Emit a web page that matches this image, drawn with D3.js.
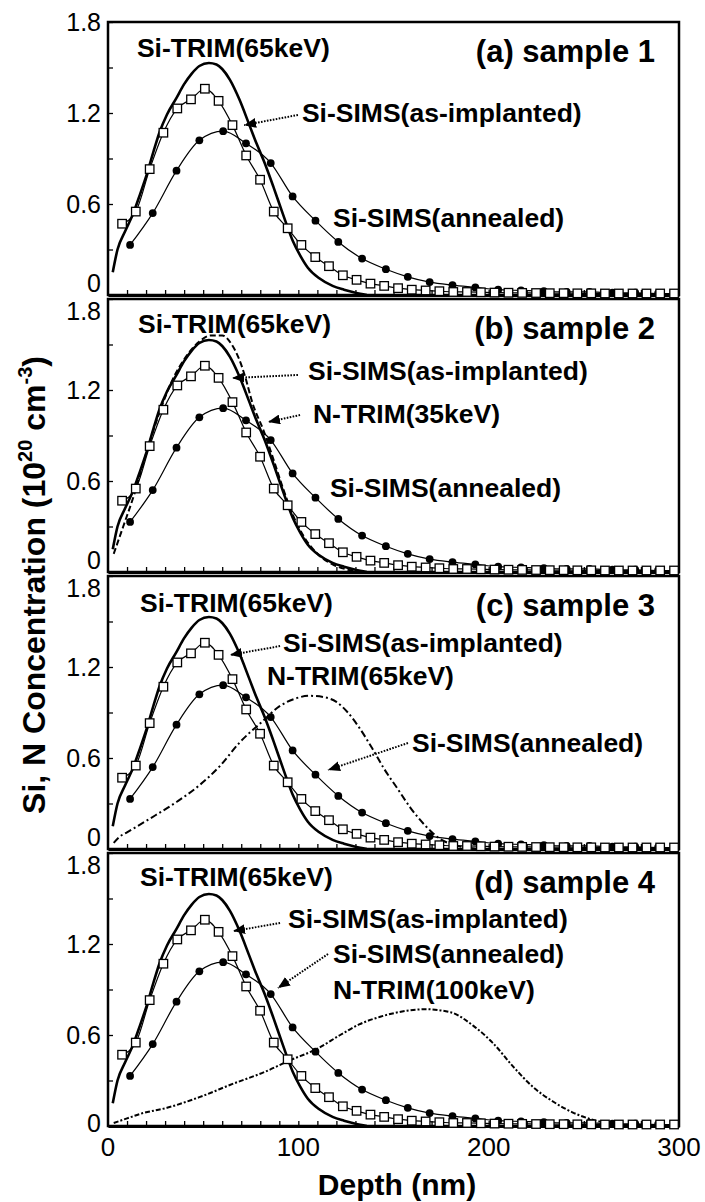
<!DOCTYPE html>
<html>
<head>
<meta charset="utf-8">
<script src="https://cdn.jsdelivr.net/npm/d3@7"></script>
<style>
body { margin: 0; background: #fff; }
svg { display: block; }
text { font-family: "Liberation Sans", Arial, sans-serif; fill: #000; }
</style>
</head>
<body>
<div id="wrapper"></div>
<script>
// ---- data: depth (nm) and concentration (1e20 cm^-3)
const siTrimDepth = [2.5, 5, 9, 13, 17, 20.5, 24, 27, 31, 36, 40, 44, 48, 53, 57, 60, 64, 69, 74, 78, 82, 87, 92, 97, 101, 105, 111, 118, 124, 130, 136];
const siTrimConc  = [0.15, 0.3, 0.42, 0.53, 0.67, 0.8, 0.95, 1.07, 1.19, 1.3, 1.39, 1.46, 1.51, 1.53, 1.52, 1.49, 1.42, 1.29, 1.13, 1.0, 0.88, 0.71, 0.53, 0.36, 0.26, 0.18, 0.11, 0.06, 0.035, 0.015, 0];

const asImplDepth = [7.4, 14.6, 21.9, 29.1, 36.4, 43.6, 50.9, 58.1, 65.4, 72.6, 79.9, 87.1, 94.4, 101.6, 108.9, 116.1, 123.4, 130.6, 137.9, 145.1, 152.4, 159.6, 166.9, 174.1, 181.4, 188.6, 195.9, 203.1, 210.4, 217.6, 224.9, 232.1, 239.4, 246.6, 253.9, 261.1, 268.4, 275.6, 282.9, 290.1, 297.4];
const asImplConc  = [0.47, 0.55, 0.83, 1.07, 1.23, 1.29, 1.36, 1.28, 1.12, 0.92, 0.76, 0.55, 0.44, 0.33, 0.25, 0.19, 0.13, 0.1, 0.075, 0.06, 0.045, 0.035, 0.03, 0.025, 0.02, 0.02, 0.018, 0.016, 0.015, 0.014, 0.013, 0.012, 0.012, 0.011, 0.011, 0.01, 0.01, 0.01, 0.01, 0.01, 0.01];

const annealDepth = [11.6, 23.5, 36, 48, 60.5, 72.5, 85.5, 97, 109, 121, 133.5, 146, 157.5, 169, 181, 193, 205, 217, 229, 241, 253, 265, 277, 289];
const annealConc  = [0.33, 0.54, 0.82, 1.02, 1.08, 1.0, 0.87, 0.65, 0.49, 0.35, 0.24, 0.17, 0.12, 0.085, 0.065, 0.05, 0.035, 0.03, 0.025, 0.02, 0.02, 0.015, 0.015, 0.01];

const n35Depth = [3, 8, 14, 20, 27, 34, 41, 48, 54, 60, 65, 69, 72, 76, 81.5, 87, 92, 97, 102.6, 110, 118, 126, 134];
const n35Conc  = [0.12, 0.3, 0.52, 0.78, 1.05, 1.27, 1.42, 1.52, 1.56, 1.56, 1.5, 1.4, 1.29, 1.11, 0.94, 0.74, 0.55, 0.38, 0.24, 0.12, 0.05, 0.015, 0];

const n65Depth = [3, 6, 10, 22, 36, 48, 59, 69, 81, 90, 98, 106, 114, 120, 126, 132, 139, 145, 152, 159, 167, 174, 181, 188, 195];
const n65Conc  = [0.04, 0.08, 0.11, 0.2, 0.31, 0.42, 0.55, 0.7, 0.84, 0.94, 0.99, 1.01, 1.0, 0.97, 0.9, 0.8, 0.66, 0.53, 0.4, 0.27, 0.15, 0.07, 0.03, 0.01, 0];

const n100Depth = [3, 10, 17, 31, 48, 66, 83, 95, 110, 122, 132, 143, 157, 167, 180, 192, 202, 213, 223, 234, 244, 255, 262, 270];
const n100Conc  = [0.02, 0.05, 0.08, 0.12, 0.19, 0.28, 0.36, 0.43, 0.51, 0.6, 0.67, 0.72, 0.76, 0.77, 0.75, 0.66, 0.55, 0.39, 0.26, 0.16, 0.09, 0.04, 0.02, 0];

const xTickLabels = [0, 100, 200, 300];
const yTickLabels = [0, 0.6, 1.2, 1.8];
const panelNames = ["(a) sample 1", "(b) sample 2", "(c) sample 3", "(d) sample 4"];

// ---- layout
const W = 705, H = 1202;
const dim = { left: 108, right: 679, top: 22, panelH: 273, gap: 4 };

const zip = (a, b) => a.map((d, i) => [d, b[i]]);
const siTrim = zip(siTrimDepth, siTrimConc);
const asImpl = zip(asImplDepth, asImplConc);
const anneal = zip(annealDepth, annealConc);
const nTrim = [null, zip(n35Depth, n35Conc), zip(n65Depth, n65Conc), zip(n100Depth, n100Conc)];
const nDash = [null, "6,3", "7,3,2,3", "5,2,2,2"];

// annotation placement, in data coords of each panel
const notes = [
    [
        { t: "Si-TRIM(65keV)", d: 15.2, v: 1.569 },
        { t: "Si-SIMS(as-implanted)", d: 101.9, v: 1.14, arrow: [99.8, 1.187, 71.5, 1.12] },
        { t: "Si-SIMS(annealed)", d: 118.2, v: 0.448 }
    ],
    [
        { t: "Si-TRIM(65keV)", d: 15.8, v: 1.575 },
        { t: "Si-SIMS(as-implanted)", d: 105.1, v: 1.266, arrow: [99.8, 1.299, 65.2, 1.279] },
        { t: "N-TRIM(35keV)", d: 107.7, v: 0.982, arrow: [100.9, 1.035, 84.1, 0.989] },
        { t: "Si-SIMS(annealed)", d: 116.6, v: 0.494 }
    ],
    [
        { t: "Si-TRIM(65keV)", d: 16.8, v: 1.562 },
        { t: "Si-SIMS(as-implanted)", d: 91.9, v: 1.299, arrow: [90.4, 1.338, 64.1, 1.279] },
        { t: "N-TRIM(65keV)", d: 83.5, v: 1.081 },
        { t: "Si-SIMS(annealed)", d: 159.7, v: 0.639, arrow: [157.6, 0.699, 115.6, 0.521] }
    ],
    [
        { t: "Si-TRIM(65keV)", d: 16.8, v: 1.582 },
        { t: "Si-SIMS(as-implanted)", d: 94.6, v: 1.305, arrow: [90.4, 1.338, 65.7, 1.285] },
        { t: "Si-SIMS(annealed)", d: 118.2, v: 1.074, arrow: [115.6, 1.134, 89.3, 0.91] },
        { t: "N-TRIM(100keV)", d: 118.2, v: 0.837 }
    ]
];

const svg = d3.select("#wrapper")
    .append("svg")
    .attr("width", W)
    .attr("height", H);

svg.append("rect").attr("width", W).attr("height", H).attr("fill", "#fff");

svg.append("defs").append("marker")
    .attr("id", "head")
    .attr("markerUnits", "userSpaceOnUse")
    .attr("viewBox", "0 0 12 10")
    .attr("refX", 12).attr("refY", 5)
    .attr("markerWidth", 12).attr("markerHeight", 10)
    .attr("orient", "auto")
    .append("path")
    .attr("d", "M0,0 L12,5 L0,10 Z")
    .attr("fill", "#000");

const x = d3.scaleLinear().domain([0, 300]).range([dim.left, dim.right]);

panelNames.forEach((name, i) => {
    const top = dim.top + i * (dim.panelH + dim.gap);
    const bottom = top + dim.panelH;
    const y = d3.scaleLinear().domain([0, 1.8]).range([bottom, top]);
    const g = svg.append("g").style("color", "#000");

    const line = d3.line()
        .x(d => x(d[0]))
        .y(d => y(d[1]))
        .curve(d3.curveMonotoneX);

    // frame
    g.append("rect")
        .attr("x", dim.left).attr("y", top)
        .attr("width", dim.right - dim.left).attr("height", dim.panelH)
        .attr("fill", "none").attr("stroke", "#000").attr("stroke-width", 2.5);

    // inward ticks
    g.append("g")
        .attr("transform", `translate(0,${bottom})`)
        .call(d3.axisBottom(x).tickValues(d3.range(10, 300, 10)).tickSize(-5).tickSizeOuter(0).tickFormat(""))
        .call(a => a.select(".domain").attr("stroke-width", 3))
        .call(a => a.selectAll(".tick line").attr("stroke-width", 1.3));

    g.append("g")
        .attr("transform", `translate(${dim.left},0)`)
        .call(d3.axisLeft(y).tickValues(d3.range(0, 1.81, 0.3)).tickSize(-5).tickSizeOuter(0).tickFormat(""))
        .call(a => a.select(".domain").remove())
        .call(a => a.selectAll(".tick line").attr("stroke-width", 1.3));

    // y tick labels (end labels nudged inward so neighbours don't collide)
    g.selectAll(".ylab")
        .data(yTickLabels)
        .enter()
        .append("text")
        .attr("x", dim.left - 7)
        .attr("y", d => {
            let shift = 0;
            if (d === 1.8 && i > 0) shift = 12;
            if (d === 0) shift = i < 3 ? -12 : -3;
            return y(d) + shift;
        })
        .attr("dy", "0.36em")
        .attr("text-anchor", "end")
        .style("font-size", "25px")
        .text(d => d === 0 ? "0" : d.toFixed(1));

    // curves
    g.append("path").datum(siTrim).attr("d", line)
        .attr("fill", "none").attr("stroke", "#000").attr("stroke-width", 2.6);

    if (nTrim[i]) {
        g.append("path").datum(nTrim[i]).attr("d", line)
            .attr("fill", "none").attr("stroke", "#000").attr("stroke-width", 2)
            .attr("stroke-dasharray", nDash[i]);
    }

    g.append("path").datum(anneal).attr("d", line)
        .attr("fill", "none").attr("stroke", "#000").attr("stroke-width", 1.2);
    g.append("path").datum(asImpl).attr("d", line)
        .attr("fill", "none").attr("stroke", "#000").attr("stroke-width", 1.2);

    g.selectAll(".dot")
        .data(anneal)
        .enter()
        .append("circle")
        .attr("cx", d => x(d[0]))
        .attr("cy", d => y(d[1]))
        .attr("r", 3.9)
        .attr("fill", "#000");

    g.selectAll(".sq")
        .data(asImpl)
        .enter()
        .append("rect")
        .attr("x", d => x(d[0]) - 4.25)
        .attr("y", d => y(d[1]) - 4.25)
        .attr("width", 8.5)
        .attr("height", 8.5)
        .attr("fill", "#fff")
        .attr("stroke", "#000")
        .attr("stroke-width", 1.3);

    // panel title
    g.append("text")
        .attr("x", x(287.4))
        .attr("y", top + 40)
        .attr("text-anchor", "end")
        .style("font-size", "31px")
        .style("font-weight", "bold")
        .text(name);

    // annotations
    notes[i].forEach(n => {
        g.append("text")
            .attr("x", x(n.d))
            .attr("y", y(n.v))
            .style("font-size", "26.5px")
            .style("font-weight", "bold")
            .text(n.t);
        if (n.arrow) {
            g.append("line")
                .attr("x1", x(n.arrow[0])).attr("y1", y(n.arrow[1]))
                .attr("x2", x(n.arrow[2])).attr("y2", y(n.arrow[3]))
                .attr("stroke", "#000").attr("stroke-width", 2)
                .attr("stroke-dasharray", "1.6,1.4")
                .attr("marker-end", "url(#head)");
        }
    });

    // x tick labels only under the last panel
    if (i === panelNames.length - 1) {
        g.selectAll(".xlab")
            .data(xTickLabels)
            .enter()
            .append("text")
            .attr("x", d => x(d))
            .attr("y", bottom + 30)
            .attr("text-anchor", "middle")
            .style("font-size", "26px")
            .text(d => d);
    }
});

// axis titles
svg.append("text")
    .attr("x", 397)
    .attr("y", 1195)
    .attr("text-anchor", "middle")
    .style("font-size", "30px")
    .style("font-weight", "bold")
    .text("Depth (nm)");

const yTitle = svg.append("text")
    .attr("transform", "translate(45,585) rotate(-90)")
    .attr("text-anchor", "middle")
    .style("font-size", "32px")
    .style("font-weight", "bold");
yTitle.append("tspan").text("Si, N Concentration (10");
yTitle.append("tspan").attr("dy", -13).style("font-size", "20px").text("20");
yTitle.append("tspan").attr("dy", 13).text(" cm");
yTitle.append("tspan").attr("dy", -13).style("font-size", "20px").text("-3");
yTitle.append("tspan").attr("dy", 13).text(")");
</script>
</body>
</html>
